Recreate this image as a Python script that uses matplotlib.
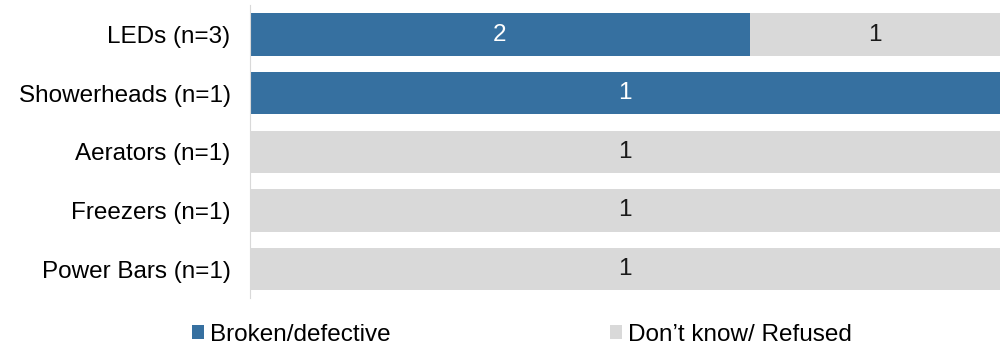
import numpy as np
import matplotlib.pyplot as plt

plt.rcParams['font.family'] = ['Liberation Sans', 'DejaVu Sans']

# reasons for removal, counts per measure
categories = ["LEDs (n=3)", "Showerheads (n=1)", "Aerators (n=1)", "Freezers (n=1)", "Power Bars (n=1)"]
broken = np.array([2, 1, 0, 0, 0])
dont_know = np.array([1, 0, 1, 1, 1])
series_names = ["Broken/defective", "Don\u2019t know/ Refused"]
colors = ["#3670A0", "#D9D9D9"]
text_colors = ["white", "#1a1a1a"]

totals = broken + dont_know
shares = [broken / totals, dont_know / totals]
counts = [broken, dont_know]

FS = 17.5

fig = plt.figure(figsize=(10, 3.47), dpi=100)
ax = fig.add_axes([0.25, 0.14, 0.75, 0.845])

y = np.arange(len(categories))
left = np.zeros(len(categories))
for share, cnt, name, col, tcol in zip(shares, counts, series_names, colors, text_colors):
    ax.barh(y, share, left=left, height=0.72, color=col, label=name)
    for yi, (s, l, c) in enumerate(zip(share, left, cnt)):
        if c > 0:
            ax.text(l + s / 2, yi, str(c), ha="center", va="center",
                    fontsize=FS, color=tcol)
    left = left + share

ax.set_ylim(len(categories) - 0.5, -0.5)
ax.set_xlim(0, 1)
ax.set_yticks(y)
ax.set_yticklabels(categories, fontsize=FS)
ax.tick_params(axis="y", length=0, pad=14)
ax.set_xticks([])
for side in ["top", "right", "bottom"]:
    ax.spines[side].set_visible(False)
ax.spines["left"].set_color("#D9D9D9")

fig.legend(loc="lower center", bbox_to_anchor=(0.522, -0.06), ncol=2, frameon=False,
           fontsize=FS, handlelength=0.5, handleheight=0.5, handletextpad=0.25,
           columnspacing=9)

fig.savefig("out.png", dpi=100)
